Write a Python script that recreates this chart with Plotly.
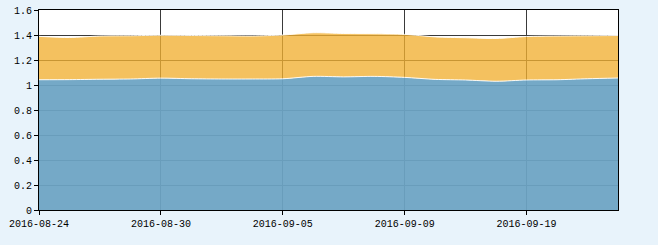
import plotly.graph_objects as go

dates = ["2016-08-24", "2016-08-25", "2016-08-26", "2016-08-29", "2016-08-30",
         "2016-08-31", "2016-09-01", "2016-09-02", "2016-09-05", "2016-09-06",
         "2016-09-07", "2016-09-08", "2016-09-09", "2016-09-12", "2016-09-13",
         "2016-09-14", "2016-09-19", "2016-09-20", "2016-09-21", "2016-09-22"]

series_a = [1.042, 1.043, 1.046, 1.048, 1.055, 1.050, 1.048, 1.048, 1.050, 1.069,
            1.065, 1.069, 1.061, 1.045, 1.040, 1.030, 1.040, 1.042, 1.050, 1.056]

series_b = [0.347, 0.337, 0.346, 0.346, 0.343, 0.346, 0.346, 0.344, 0.350, 0.349,
            0.347, 0.341, 0.344, 0.340, 0.338, 0.342, 0.348, 0.350, 0.344, 0.340]

x_ticks = ["2016-08-24", "2016-08-30", "2016-09-05", "2016-09-09", "2016-09-19"]
y_ticks = [0, 0.2, 0.4, 0.6, 0.8, 1.0, 1.2, 1.4, 1.6]
y_tick_text = ["0", "0.2", "0.4", "0.6", "0.8", "1", "1.2", "1.4", "1.6"]

fig = go.Figure()
fig.add_trace(go.Scatter(
    x=dates, y=series_a, stackgroup="s", mode="lines",
    line=dict(color="rgba(255,255,255,0.9)", width=1, shape="spline", smoothing=0.8),
    fillcolor="rgba(108,164,196,0.94)", hoverinfo="skip"))
fig.add_trace(go.Scatter(
    x=dates, y=series_b, stackgroup="s", mode="lines",
    line=dict(color="rgba(255,255,255,0.9)", width=1, shape="spline", smoothing=0.8),
    fillcolor="rgba(241,176,50,0.78)", hoverinfo="skip"))

font = dict(family="Liberation Mono", size=10, color="#000")
fig.update_layout(
    width=658, height=245,
    margin=dict(l=38.5, r=39.5, t=10.3, b=34.7, autoexpand=False),
    paper_bgcolor="rgb(232,243,251)",
    plot_bgcolor="#ffffff",
    showlegend=False,
    font=font,
    xaxis=dict(type="category", range=[0, len(dates) - 1], automargin=False,
               tickmode="array", tickvals=x_ticks, ticktext=x_ticks,
               showgrid=True, gridcolor="#3a3a3a", gridwidth=1,
               showline=True, linecolor="#000", linewidth=1, mirror=True,
               ticks="outside", ticklen=4, tickcolor="#000",
               tickfont=font, zeroline=False, fixedrange=True),
    yaxis=dict(range=[0, 1.6], tickmode="array", tickvals=y_ticks,
               ticktext=y_tick_text, automargin=False,
               showgrid=True, gridcolor="#3a3a3a", gridwidth=1,
               showline=True, linecolor="#000", linewidth=1, mirror=True,
               ticks="outside", ticklen=4, tickcolor="#000",
               tickfont=font, zeroline=False, fixedrange=True),
)

fig.write_html("out.html", config={"displayModeBar": False})
